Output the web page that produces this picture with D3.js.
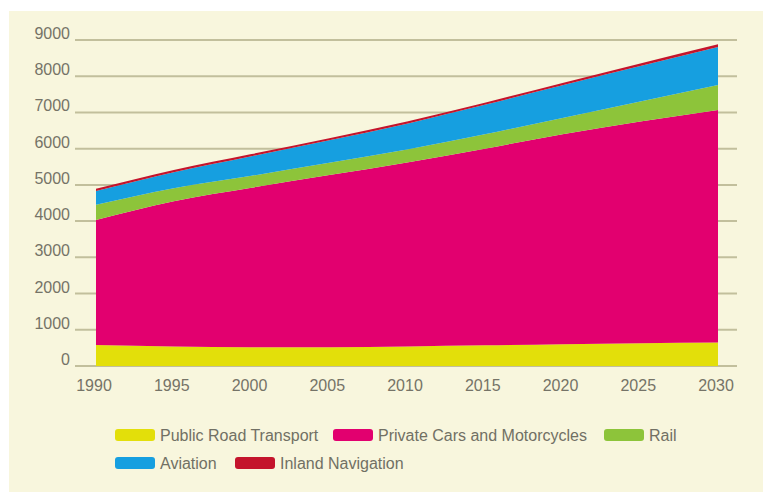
<!DOCTYPE html>
<html>
<head>
<meta charset="utf-8">
<script src="https://cdn.jsdelivr.net/npm/d3@7"></script>
<style>
	body { margin: 0; background: #ffffff; }
	svg { display: block; }
	text { font-family: "Liberation Sans", Arial, sans-serif; }
</style>
</head>
<body>
<div id="chart"></div>
<script>

// data
var years = [1990, 1995, 2000, 2005, 2010, 2015, 2020, 2025, 2030];
var publicRoad = [580, 540, 520, 520, 540, 570, 600, 630, 650];
var privateCars = [3450, 4010, 4400, 4750, 5080, 5430, 5800, 6120, 6420];
var rail = [420, 360, 330, 340, 360, 400, 450, 550, 690];
var aviation = [380, 440, 540, 620, 710, 810, 900, 980, 1050];
var inland = [60, 60, 60, 60, 60, 60, 65, 70, 70];

var seriesNames = ["Public Road Transport", "Private Cars and Motorcycles", "Rail", "Aviation", "Inland Navigation"];
var seriesColors = ["#e3df0a", "#e2006f", "#8dc43a", "#169fe0", "#c4142c"];
var yTicks = [0, 1000, 2000, 3000, 4000, 5000, 6000, 7000, 8000, 9000];

var width = 763, height = 492;

var svg = d3.select("#chart").append("svg")
	.attr("width", width)
	.attr("height", height);

// cream panel
svg.append("rect")
	.attr("x", 9)
	.attr("y", 11)
	.attr("width", width - 9)
	.attr("height", height - 11)
	.attr("fill", "#f8f6dd");

var x = d3.scaleLinear().domain([1990, 2030]).range([96, 718]);
var y = d3.scaleLinear().domain([0, 9000]).range([366, 40]);

// gridlines (behind areas)
svg.append("g")
	.selectAll("line")
	.data(yTicks)
	.enter()
	.append("line")
		.attr("x1", 75)
		.attr("x2", 737)
		.attr("y1", function(d){ return y(d); })
		.attr("y2", function(d){ return y(d); })
		.attr("stroke", "#c2bf9c")
		.attr("stroke-width", 2);

// stacked areas
var table = years.map(function(yr, i){
	return {
		year: yr,
		s0: publicRoad[i],
		s1: privateCars[i],
		s2: rail[i],
		s3: aviation[i],
		s4: inland[i]
	};
});

var stack = d3.stack().keys(["s0", "s1", "s2", "s3", "s4"]);
var layers = stack(table);

var area = d3.area()
	.x(function(d){ return x(d.data.year); })
	.y0(function(d){ return y(d[0]); })
	.y1(function(d){ return y(d[1]); })
	.curve(d3.curveMonotoneX);

svg.append("g")
	.selectAll("path")
	.data(layers)
	.enter()
	.append("path")
		.attr("d", area)
		.attr("fill", function(d, i){ return seriesColors[i]; });

// y axis labels
svg.append("g")
	.selectAll("text")
	.data(yTicks)
	.enter()
	.append("text")
		.attr("x", 70)
		.attr("y", function(d){ return y(d) - 1; })
		.attr("text-anchor", "end")
		.attr("font-size", 16)
		.attr("fill", "#757367")
		.text(function(d){ return d; });

// x axis labels
svg.append("g")
	.selectAll("text")
	.data(years)
	.enter()
	.append("text")
		.attr("x", function(d){ return x(d) - 2; })
		.attr("y", 391)
		.attr("text-anchor", "middle")
		.attr("font-size", 16)
		.attr("fill", "#757367")
		.text(function(d){ return d; });

// legend
var legendPos = [[115, 435], [333, 435], [604, 435], [115, 463], [235, 463]];

var legend = svg.append("g")
	.selectAll("g")
	.data(seriesNames)
	.enter()
	.append("g")
		.attr("transform", function(d, i){
			return "translate(" + legendPos[i][0] + ", " + legendPos[i][1] + ")";
		});

legend.append("rect")
	.attr("x", 0)
	.attr("y", -6)
	.attr("width", 40)
	.attr("height", 12)
	.attr("rx", 3)
	.attr("fill", function(d, i){ return seriesColors[i]; });

legend.append("text")
	.attr("x", 45)
	.attr("y", 6)
	.attr("font-size", 16)
	.attr("fill", "#717064")
	.text(function(d){ return d; });

</script>
</body>
</html>
